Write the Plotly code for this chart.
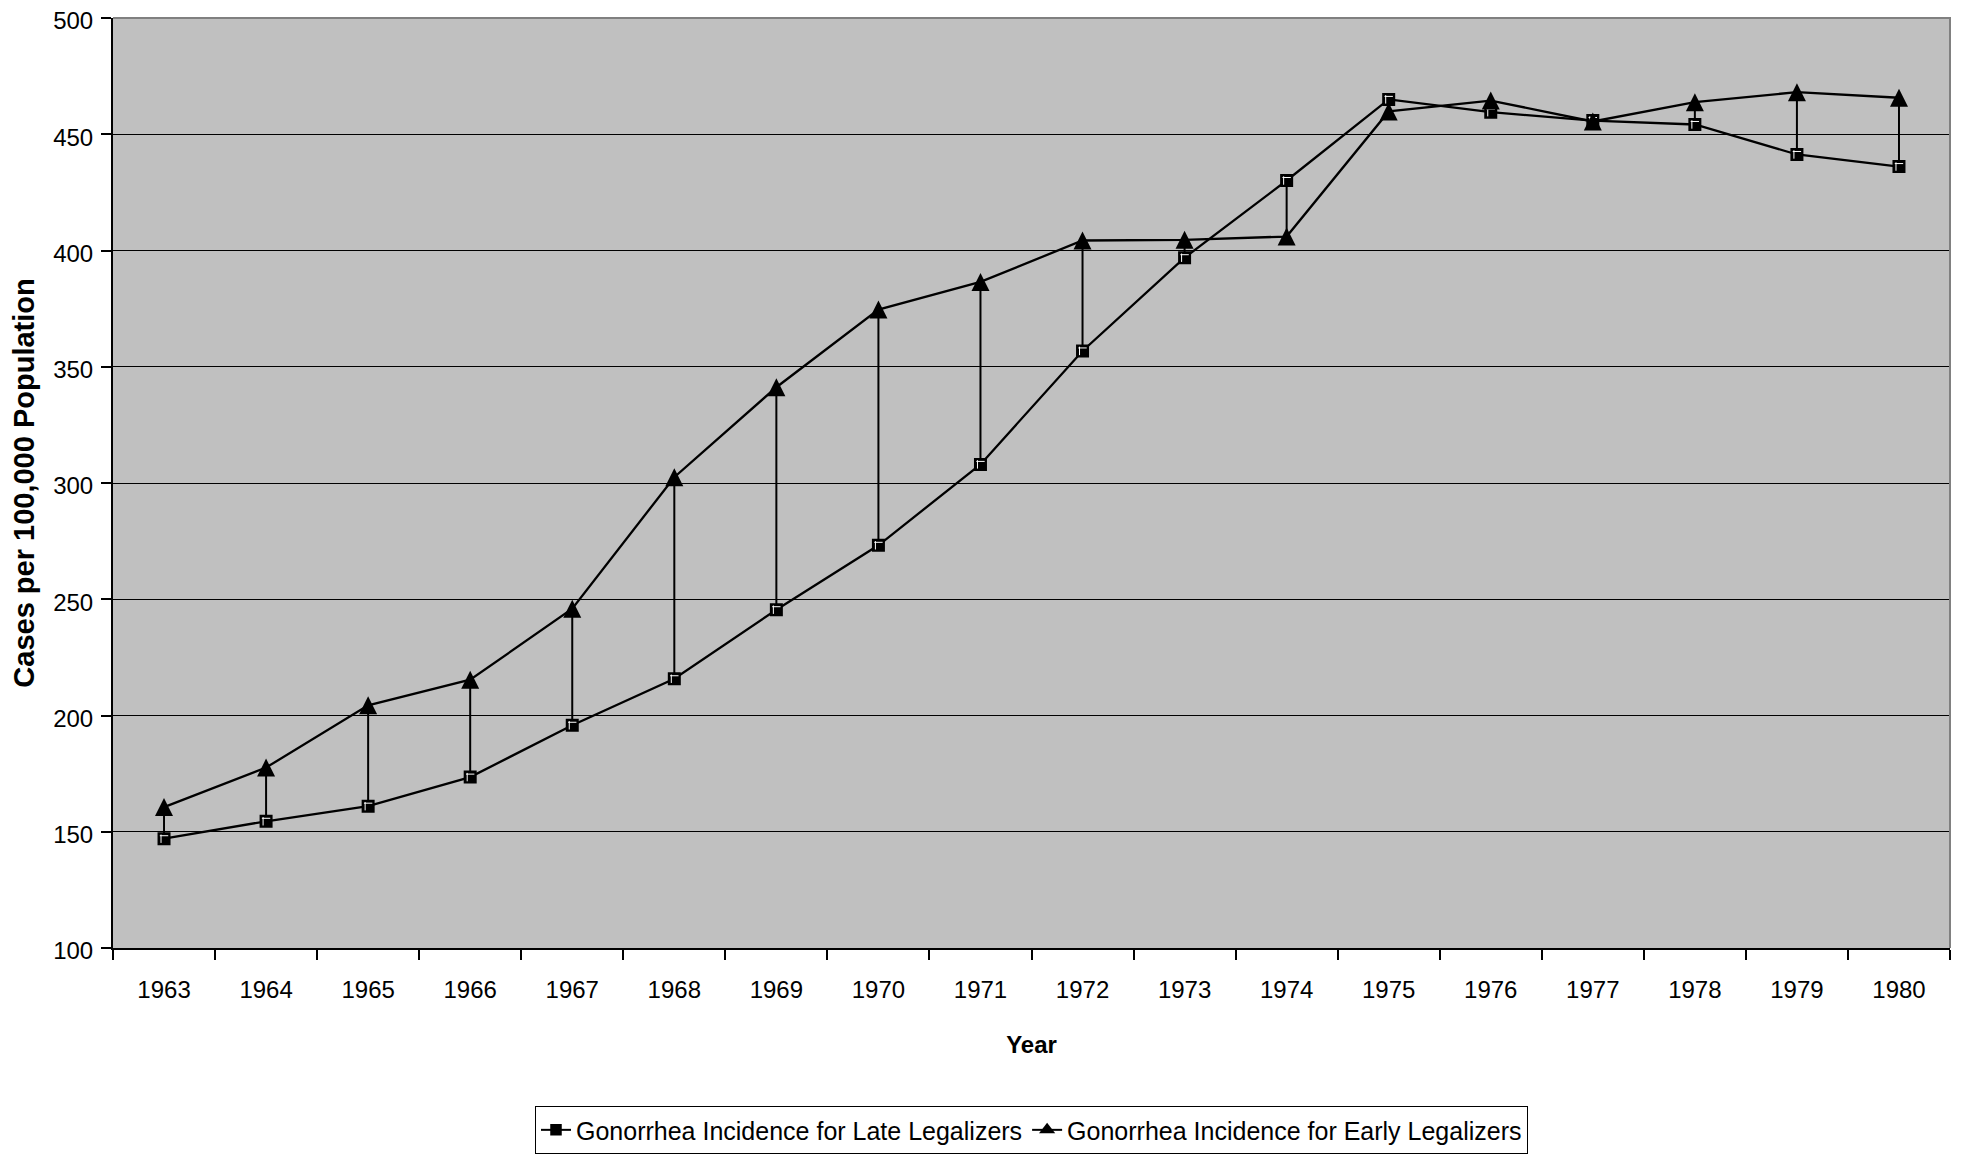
import plotly.graph_objects as go

years = [str(y) for y in range(1963, 1981)]
late_legalizers = [147.0, 154.5, 161.0, 173.5, 195.8, 215.8, 245.5, 273.2, 308.0,
                   356.8, 396.9, 430.1, 465.0, 459.5, 455.9, 454.2, 441.3, 436.1]
early_legalizers = [160.6, 177.6, 204.4, 215.4, 245.9, 302.5, 341.2, 374.6, 386.5,
                    404.3, 404.6, 406.0, 459.8, 464.5, 455.5, 463.8, 468.1, 465.7]

y_ticks = [100, 150, 200, 250, 300, 350, 400, 450, 500]
late_name = "Gonorrhea Incidence for Late Legalizers"
early_name = "Gonorrhea Incidence for Early Legalizers"
x_title = "Year"
y_title = "Cases per 100,000 Population"

FONT = "Liberation Sans, Arial, sans-serif"

# high-low drop lines built from the two series
drop_x, drop_y = [], []
for yr, lo, hi in zip(years, late_legalizers, early_legalizers):
    drop_x += [yr, yr, None]
    drop_y += [lo, hi, None]

fig = go.Figure()
fig.add_trace(go.Scatter(x=drop_x, y=drop_y, mode="lines",
                         line=dict(color="black", width=2),
                         showlegend=False, hoverinfo="skip"))

# Late legalizers: line + black squares with a white top-left highlight
fig.add_trace(go.Scatter(x=years, y=late_legalizers, mode="lines+markers",
                         name=late_name, showlegend=False,
                         line=dict(color="black", width=2.3, backoff=0),
                         marker=dict(symbol="square", size=11, color="black",
                                     line=dict(color="black", width=2))))
for ang in (180, 90):
    fig.add_trace(go.Scatter(x=years, y=late_legalizers, mode="markers",
                             marker=dict(symbol="line-ew", size=6, angle=ang,
                                         standoff=3,
                                         line=dict(color="white", width=1)),
                             showlegend=False, hoverinfo="skip"))

# Early legalizers: line + tall black triangles centred on the points
fig.add_trace(go.Scatter(x=years, y=early_legalizers, mode="lines+markers",
                         name=early_name, showlegend=False,
                         line=dict(color="black", width=2.3, backoff=0),
                         marker=dict(symbol="arrow-down", size=18, angle=180,
                                     standoff=9, color="black",
                                     line=dict(color="black", width=0))))

# legend entries
fig.add_trace(go.Scatter(x=[None], y=[None], mode="lines+markers", name=late_name,
                         line=dict(color="black", width=2),
                         marker=dict(symbol="square", size=10, color="black",
                                     line=dict(color="black", width=1.5))))
fig.add_trace(go.Scatter(x=[None], y=[None], mode="lines+markers", name=early_name,
                         line=dict(color="black", width=2),
                         marker=dict(symbol="triangle-up", size=14, color="black",
                                     line=dict(color="black", width=0))))

fig.update_layout(
    width=1970, height=1159,
    margin=dict(l=105, r=28, t=10, b=219),
    paper_bgcolor="white",
    plot_bgcolor="#C0C0C0",
    font=dict(family=FONT, size=25, color="black"),
    showlegend=True,
    legend=dict(orientation="h", x=0.5, xanchor="center",
                y=-0.17, yanchor="top",
                bordercolor="black", borderwidth=1,
                font=dict(family=FONT, size=25, color="black"),
                bgcolor="white"),
    xaxis=dict(type="category", categoryorder="array", categoryarray=years,
               range=[-0.5, len(years) - 0.5], automargin=False,
               showline=True, linecolor="black", linewidth=2,
               ticks="outside", tickson="boundaries", ticklen=10,
               tickwidth=2, tickcolor="black",
               showgrid=False, zeroline=False,
               ticklabelstandoff=19,
               tickfont=dict(family=FONT, size=24),
               title=dict(text="<b>" + x_title + "</b>",
                          font=dict(family=FONT, size=24), standoff=34)),
    yaxis=dict(range=[100, 500], tickvals=y_ticks, automargin=False,
               ticklabeloverflow="allow", ticklabelshift=3,
               showline=True, linecolor="black", linewidth=2,
               ticks="outside", ticklen=10, tickwidth=2, tickcolor="black",
               showgrid=True, gridcolor="black", gridwidth=1,
               zeroline=False,
               ticklabelstandoff=3,
               tickfont=dict(family=FONT, size=24),
               title=dict(text="<b>" + y_title + "</b>",
                          font=dict(family=FONT, size=29), standoff=12)),
    shapes=[dict(type="path", xref="paper", yref="paper",
                 path="M 0,1 L 1,1 L 1,0", layer="above",
                 line=dict(color="#808080", width=2))],
)

fig.write_html("out.html")
